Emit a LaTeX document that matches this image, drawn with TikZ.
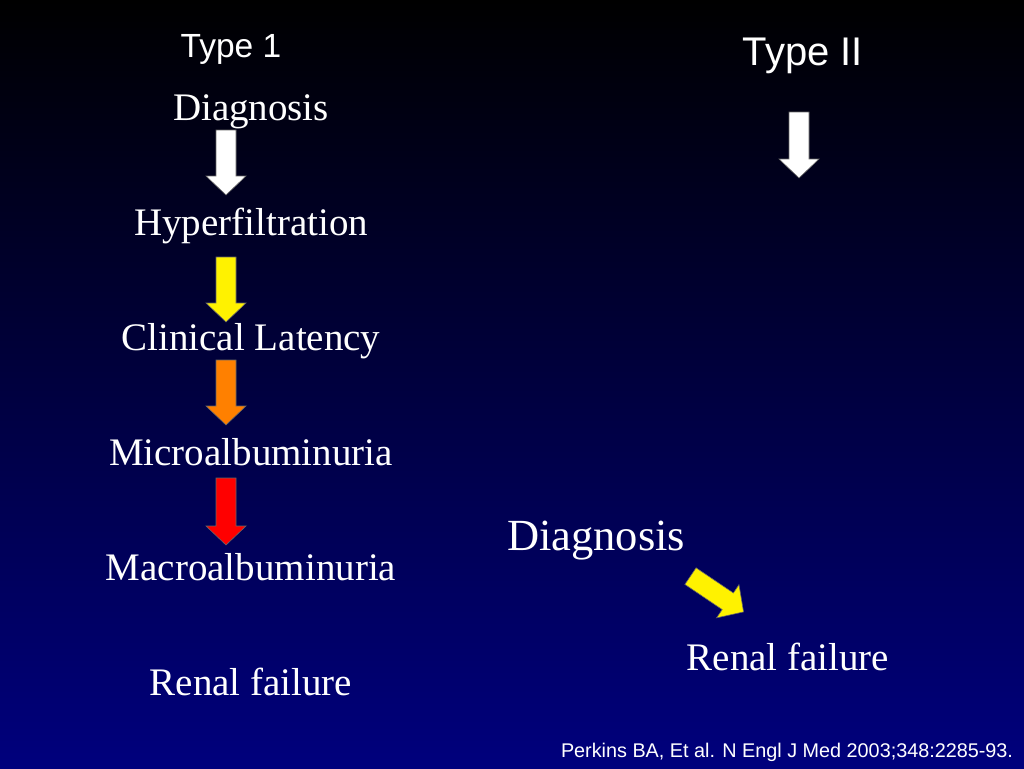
\documentclass[tikz,border=0pt]{standalone}
\usepackage{fontspec}
\setmainfont{Liberation Serif}
\newfontfamily\arial{Liberation Sans}
\begin{document}
\begin{tikzpicture}[x=1pt,y=-1pt,
  lbl/.style={font=\fontsize{39}{39}\selectfont,text=white,anchor=base},
  ttl/.style={font=\arial\fontsize{33.5}{33.5}\selectfont,text=white,anchor=base},
  barrow/.style={draw=black!60,line width=0.6pt,line join=miter}]
\shade[top color=black,bottom color={rgb,255:red,0;green,0;blue,125}] (0,0) rectangle (1024,768);
\useasboundingbox (0,0) rectangle (1024,768);
\newcommand{\blockarrow}[4]{% cx, top, tip, color
  \fill[#4,barrow] (#1-10,#2) -- (#1+10,#2) -- (#1+10,#3-19) -- (#1+20,#3-19) -- (#1,#3) -- (#1-20,#3-19) -- (#1-10,#3-19) -- cycle;}
\node[ttl] (t1) at (231,57) {Type 1};
\node[ttl,font=\arial\fontsize{40}{40}\selectfont] (t2) at (803,65) {Type II};
\node[lbl] (a) at (251,120) {Diagnosis};
\node[lbl] (b) at (251,235) {Hyperfiltration};
\node[lbl] (c) at (251,350) {Clinical Latency};
\node[lbl] (d) at (251,465) {Microalbuminuria};
\node[lbl] (e) at (251,580) {Macroalbuminuria};
\node[lbl] (f) at (251,695) {Renal failure};
\node[lbl,font=\fontsize{44.5}{44.5}\selectfont] (g) at (596,550) {Diagnosis};
\node[lbl] (h) at (788,670) {Renal failure};
\node[anchor=base,text=white,font=\arial\fontsize{19.8}{19.8}\selectfont] (cit) at (787,757) {Perkins BA, Et al. N Engl J Med 2003;348:2285-93.};
\blockarrow{226}{130}{195}{white}
\blockarrow{226}{257}{322}{yellow}
\blockarrow{226}{360}{425}{orange}
\blockarrow{226}{478}{545}{red}
\blockarrow{799}{112}{178}{white}
\begin{scope}[shift={(717,594)},rotate=56]
\fill[yellow,barrow] (-10,-32) -- (10,-32) -- (10,13) -- (20,13) -- (0,32) -- (-20,13) -- (-10,13) -- cycle;
\end{scope}
\end{tikzpicture}
\end{document}
